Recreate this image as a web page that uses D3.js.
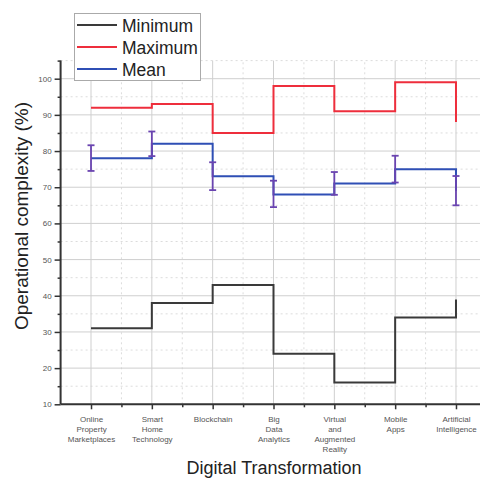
<!DOCTYPE html>
<html><head><meta charset="utf-8">
<script src="https://cdn.jsdelivr.net/npm/d3@7"></script>
<style>
html,body{margin:0;padding:0;background:#fff;overflow:hidden;}
svg{display:block;font-family:"Liberation Sans",Arial,sans-serif;}
</style></head>
<body>
<script>
const categories = [
  ["Online","Property","Marketplaces"],
  ["Smart","Home","Technology"],
  ["Blockchain"],
  ["Big","Data","Analytics"],
  ["Virtual","and","Augmented","Reality"],
  ["Mobile","Apps"],
  ["Artificial","Intelligence"]
];
const minimum = [31, 38, 43, 24, 16, 34, 39];
const maximum = [92, 93, 85, 98, 91, 99, 88];
const mean    = [78, 82, 73, 68, 71, 75, 69];
const errLow  = [74.5, 78.6, 69.2, 64.5, 67.9, 71.3, 65.0];
const errHigh = [81.6, 85.4, 76.9, 71.8, 74.2, 78.7, 73.1];
const yTicks = [10,20,30,40,50,60,70,80,90,100];
const yMinor = [15,25,35,45,55,65,75,85,95,105];
const seriesNames = ["Minimum","Maximum","Mean"];
const seriesColors = ["#3a3a3a","#ee2e3c","#2f4fb5"];
const errColor = "#6a44b0";

const W = 480, H = 478;
const svg = d3.select("body").append("svg").attr("width", W).attr("height", H);

const x = d3.scaleLinear().domain([0.5, 7.5]).range([60.6, 486.4]);
const y = d3.scaleLinear().domain([10, 105]).range([404.3, 60.6]);
const idx = d3.range(1, categories.length + 1);
const xMinor = d3.range(1.5, categories.length + 0.6, 1);

// grid
const g = svg.append("g");
g.selectAll(".hmin").data(yMinor).join("line")
  .attr("x1", x(0.5)).attr("x2", W).attr("y1", d => y(d)).attr("y2", d => y(d))
  .attr("stroke", "#dcdcdc").attr("stroke-width", 1).attr("stroke-dasharray", "2,3");
g.selectAll(".vmin").data(xMinor).join("line")
  .attr("y1", y(10)).attr("y2", y(105)).attr("x1", d => x(d)).attr("x2", d => x(d))
  .attr("stroke", "#dcdcdc").attr("stroke-width", 1).attr("stroke-dasharray", "2,3");
g.selectAll(".hmaj").data(yTicks).join("line")
  .attr("x1", x(0.5)).attr("x2", W).attr("y1", d => y(d)).attr("y2", d => y(d))
  .attr("stroke", "#cfcfcf").attr("stroke-width", 1);
g.selectAll(".vmaj").data(idx).join("line")
  .attr("y1", y(10)).attr("y2", y(105)).attr("x1", d => x(d)).attr("x2", d => x(d))
  .attr("stroke", "#cfcfcf").attr("stroke-width", 1);

// lines
const line = d3.line().x((d, i) => x(i + 1)).y(d => y(d)).curve(d3.curveStepAfter);
[minimum, maximum, mean].forEach((s, k) => {
  svg.append("path").datum(s).attr("d", line)
    .attr("fill", "none").attr("stroke", seriesColors[k]).attr("stroke-width", 2);
});

// error bars
const eb = svg.append("g").attr("stroke", errColor).attr("stroke-width", 1.8);
idx.forEach((c, i) => {
  eb.append("line").attr("x1", x(c)).attr("x2", x(c)).attr("y1", y(errLow[i])).attr("y2", y(errHigh[i]));
  [errLow[i], errHigh[i]].forEach(v => {
    eb.append("line").attr("x1", x(c) - 3.5).attr("x2", x(c) + 3.5).attr("y1", y(v)).attr("y2", y(v));
  });
});

// axes
const yAxis = svg.append("g").attr("transform", `translate(${x(0.5)},0)`)
  .call(d3.axisLeft(y).tickValues(yTicks).tickSize(6).tickPadding(3).tickFormat(d3.format("d")));
svg.append("g").attr("transform", `translate(${x(0.5)},0)`)
  .call(d3.axisLeft(y).tickValues(yMinor).tickSize(3).tickFormat(""))
  .call(a => a.select(".domain").remove())
  .selectAll("line").attr("stroke", "#333").attr("stroke-width", 1.5);
yAxis.select(".domain").attr("stroke", "#333").attr("stroke-width", 2)
  .attr("d", `M0,${y(105)}V${y(10)}`);
yAxis.selectAll(".tick line").attr("stroke", "#333").attr("stroke-width", 1.5);
yAxis.selectAll("text").attr("font-size", 8).attr("fill", "#555")
  .attr("font-family", "Liberation Sans, Arial, sans-serif");

const xAxis = svg.append("g").attr("transform", `translate(0,${y(10)})`)
  .call(d3.axisBottom(x).tickValues(idx).tickSize(5).tickFormat(""));
svg.append("g").attr("transform", `translate(0,${y(10)})`)
  .call(d3.axisBottom(x).tickValues(xMinor).tickSize(3).tickFormat(""))
  .call(a => a.select(".domain").remove())
  .selectAll("line").attr("stroke", "#333").attr("stroke-width", 1.5);
xAxis.select(".domain").attr("stroke", "#333").attr("stroke-width", 2)
  .attr("d", `M${x(0.5)},0H${W}`);
xAxis.selectAll(".tick line").attr("stroke", "#333").attr("stroke-width", 1.5);
xAxis.selectAll(".tick").each(function(d) {
  const t = d3.select(this).append("text").attr("text-anchor", "middle")
    .attr("font-size", 8).attr("fill", "#555")
    .attr("font-family", "Liberation Sans, Arial, sans-serif");
  categories[d - 1].forEach((w, j) => {
    t.append("tspan").attr("x", 0).attr("y", 18 + j * 10).text(w);
  });
});

// axis titles
svg.append("text").attr("transform", "translate(28,216) rotate(-90)")
  .attr("text-anchor", "middle").attr("font-size", 19).attr("fill", "#222")
  .text("Operational complexity (%)");
svg.append("text").attr("x", 274).attr("y", 474).attr("text-anchor", "middle")
  .attr("font-size", 18).attr("fill", "#222").text("Digital Transformation");

// legend
const lg = svg.append("g");
lg.append("rect").attr("x", 74.5).attr("y", 13.5).attr("width", 126).attr("height", 67)
  .attr("fill", "#fff").attr("stroke", "#aaa").attr("stroke-width", 1);
seriesNames.forEach((n, k) => {
  const cy = 25 + k * 22;
  lg.append("line").attr("x1", 77).attr("x2", 117).attr("y1", cy).attr("y2", cy)
    .attr("stroke", seriesColors[k]).attr("stroke-width", 2);
  lg.append("text").attr("x", 122).attr("y", cy + 6.5).attr("font-size", 17.5)
    .attr("fill", "#222").text(n);
});
</script>
</body></html>
